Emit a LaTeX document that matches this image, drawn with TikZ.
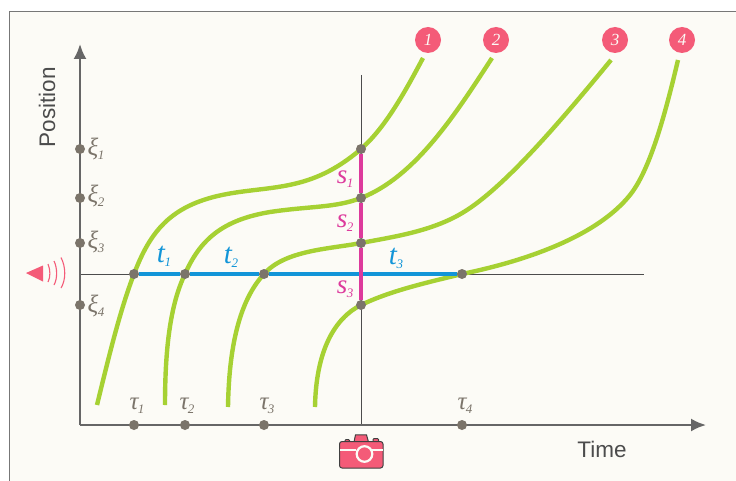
\documentclass[tikz,border=0pt]{standalone}
\usepackage{fontspec}
\newfontfamily\labelfont{Liberation Sans}
\newfontfamily\mathlike{Liberation Serif}
\usetikzlibrary{arrows.meta}
\definecolor{paper}{HTML}{FCFBF6}
\definecolor{axisgray}{HTML}{666666}
\definecolor{frameg}{HTML}{777777}
\definecolor{dotgray}{HTML}{7B746A}
\definecolor{curvegreen}{HTML}{A6D133}
\definecolor{tblue}{HTML}{1295D8}
\definecolor{smag}{HTML}{DD3A9C}
\definecolor{pinkred}{HTML}{F45B78}
\tikzset{
 axisline/.style={draw=axisgray,line width=2.2pt,-{Latex[length=15pt,width=13pt]}},
 thinline/.style={draw=black!70,line width=.8pt},
 curve/.style={draw=curvegreen,line width=4.4pt},
 dotn/.style={circle,fill=dotgray,inner sep=0pt,minimum size=10pt},
 tlab/.style={text=tblue,font=\mathlike\itshape\fontsize{29}{29}\selectfont},
 slab/.style={text=smag,font=\mathlike\itshape\fontsize{27}{27}\selectfont},
 glab/.style={text=dotgray,font=\mathlike\itshape\fontsize{25}{25}\selectfont},
 numb/.style={circle,fill=pinkred,inner sep=0pt,minimum size=26pt,text=paper,font=\mathlike\fontsize{17}{17}\selectfont\itshape},
 axlab/.style={text=black!70,font=\labelfont\fontsize{22.5}{22.5}\selectfont},
}
\newcommand{\lab}[2]{#1\kern-.5pt\raisebox{-4pt}{\fontsize{13}{13}\selectfont #2}}
\begin{document}
\begin{tikzpicture}[x=1pt,y=-1pt]
\useasboundingbox (0,0) rectangle (736,481);
\fill[white] (0,0) rectangle (736,481);
\fill[paper] (9.5,11.5) rectangle (736,481);
\draw[frameg,line width=1pt] (9.5,481) -- (9.5,11.5) -- (736,11.5);

% coordinates
\coordinate (origin) at (80,425);
\coordinate (ytop) at (80,44);
\coordinate (xend) at (706,425);
\coordinate (hl) at (80,274);
\coordinate (hr) at (644,274);
\coordinate (vt) at (361,75);
\coordinate (vb) at (361,425);

\draw[thinline] (hl) -- (hr);
\draw[thinline] (vt) -- (vb);

% curves
\draw[curve] (97,405) .. controls (108,360) and (120,310) .. (134,274)
 .. controls (150,232) and (170,206) .. (222,195)
 .. controls (270,185) and (310,193) .. (361,149)
 .. controls (385,128) and (405,92) .. (423,58);
\draw[curve] (165,405) .. controls (165,350) and (170,305) .. (185,274)
 .. controls (200,240) and (222,220) .. (270,212)
 .. controls (310,206) and (335,208) .. (361,198)
 .. controls (415,177) and (455,115) .. (492,58);
\draw[curve] (228,407) .. controls (229,345) and (240,300) .. (264,274)
 .. controls (285,250) and (330,249) .. (361,243)
 .. controls (395,236.5) and (435,231) .. (467,210)
 .. controls (507,184) and (560,122) .. (611,60);
\draw[curve] (315,407) .. controls (316,350) and (335,318) .. (361,305)
 .. controls (390,291) and (425,283) .. (462,274)
 .. controls (530,260) and (598,235) .. (630,195)
 .. controls (650,170) and (665,115) .. (678,60);

% axes
\draw[axisline] (origin) -- (ytop);
\draw[axisline] (origin) -- (xend);

% dots on the curves
\node[dotn] (a1) at (134,274) {};
\node[dotn] (a2) at (185,274) {};
\node[dotn] (a3) at (264,274) {};
\node[dotn] (a4) at (462,274) {};
\node[dotn] (b1) at (361,149) {};
\node[dotn] (b2) at (361,198) {};
\node[dotn] (b3) at (361,243) {};
\node[dotn] (b4) at (361,305) {};

% blue and magenta
\draw[tblue,line width=3.4pt] (a1) -- (a2);
\draw[tblue,line width=3.4pt] (a2) -- (a3);
\draw[tblue,line width=3.4pt] (a3) -- (a4);
\draw[smag,line width=3.6pt] (b1) -- (b2);
\draw[smag,line width=3.6pt] (b2) -- (b3);
\draw[smag,line width=3.6pt] (b3) -- (b4);

% axis dots
\node[dotn] (x1) at (80,149) {};
\node[dotn] (x2) at (80,198) {};
\node[dotn] (x3) at (80,243) {};
\node[dotn] (x4) at (80,305) {};
\node[dotn] (t1) at (134,425) {};
\node[dotn] (t2) at (185,425) {};
\node[dotn] (t3) at (264,425) {};
\node[dotn] (t4) at (462,425) {};

% labels
\node[glab] (lx1) at (96,149) {\lab{ξ}{1}};
\node[glab] (lx2) at (96,196) {\lab{ξ}{2}};
\node[glab] (lx3) at (96,242) {\lab{ξ}{3}};
\node[glab] (lx4) at (96,306) {\lab{ξ}{4}};
\node[glab] (lt1) at (137,406) {\lab{τ}{1}};
\node[glab] (lt2) at (187,406) {\lab{τ}{2}};
\node[glab] (lt3) at (267,406) {\lab{τ}{3}};
\node[glab] (lt4) at (465,406) {\lab{τ}{4}};
\node[tlab] (bl1) at (164,256) {\lab{t}{1}};
\node[tlab] (bl2) at (231,257) {\lab{t}{2}};
\node[tlab] (bl3) at (396,258) {\lab{t}{3}};
\node[slab] (ms1) at (345,179) {\lab{s}{1}};
\node[slab] (ms2) at (345,223) {\lab{s}{2}};
\node[slab] (ms3) at (345,289) {\lab{s}{3}};

\node[numb] (n1) at (428,40) {1};
\node[numb] (n2) at (496,40) {2};
\node[numb] (n3) at (615,40) {3};
\node[numb] (n4) at (682,40) {4};

\node[axlab,rotate=90] (pos) at (47,107) {Position};
\node[axlab] (tim) at (602,449) {Time};

% speaker
\fill[pinkred] (26,273) -- (43,265.5) -- (43,281.5) -- cycle;
\draw[pinkred,line width=1.1pt] (48,264) .. controls (50.5,270) and (50.5,277) .. (48,282);
\draw[pinkred,line width=1.1pt] (54,261) .. controls (57.5,268) and (57.5,279) .. (54,285);
\draw[pinkred,line width=1.1pt] (61,257.5) .. controls (66,267) and (66,280) .. (61,288);

% camera
\draw[black!75,fill=pinkred,line width=1pt,rounded corners=1pt] (345,439.5) rectangle (349.5,442);
\draw[black!75,fill=pinkred,line width=1pt,rounded corners=1pt] (373,438.5) rectangle (378.5,442);
\draw[black!75,fill=pinkred,line width=1pt] (354,442) -- (355.5,434.8) -- (366.5,434.8) -- (368.5,442) -- cycle;
\draw[black!75,fill=pinkred,line width=1pt,rounded corners=2.5pt] (339.5,441.5) rectangle (383,468);
\draw[paper,line width=2pt] (340,449.5) -- (356,449.5);
\draw[paper,line width=2pt] (370,449.5) -- (382.5,449.5);
\draw[paper,line width=2.2pt] (364.5,454) circle (7.8pt);
\end{tikzpicture}
\end{document}
